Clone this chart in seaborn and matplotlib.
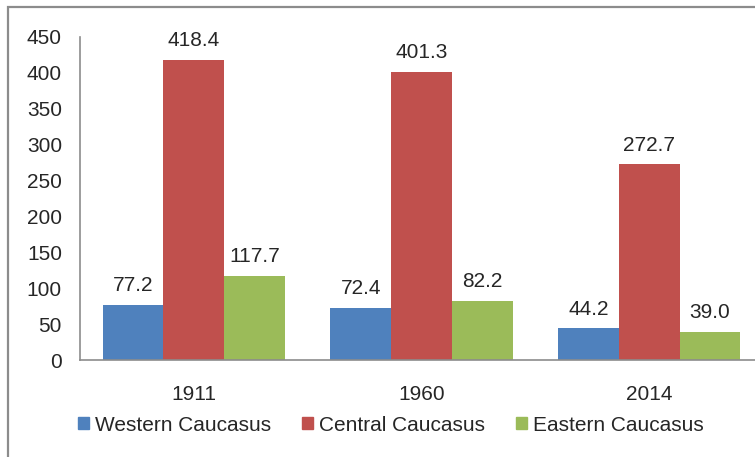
import pandas as pd
import numpy as np
import matplotlib
matplotlib.use("Agg")
import matplotlib.pyplot as plt
import seaborn as sb
from matplotlib.patches import Rectangle

years = ["1911", "1960", "2014"]
regions = ["Western Caucasus", "Central Caucasus", "Eastern Caucasus"]
western = [77.2, 72.4, 44.2]
central = [418.4, 401.3, 272.7]
eastern = [117.7, 82.2, 39.0]
colors = ["#4F81BD", "#C0504D", "#9BBB59"]

df = pd.DataFrame({
    "Year": years * 3,
    "Region": [regions[0]] * 3 + [regions[1]] * 3 + [regions[2]] * 3,
    "Value": western + central + eastern,
})

sb.set_style("white")
plt.rcParams["font.family"] = ["Liberation Sans", "DejaVu Sans"]

fig = plt.figure(figsize=(7.55, 4.57), dpi=100)
# chart area is cropped on the right, like the picture
ax = fig.add_axes([80 / 755, 1 - 360 / 457, 683 / 755, 323 / 457])

sb.barplot(data=df, x="Year", y="Value", hue="Region", palette=colors,
           width=0.8, saturation=1, ax=ax, linewidth=0)

for c in ax.containers:
    ax.bar_label(c, fmt="%.1f", padding=7, fontsize=15)

ax.set_ylim(0, 450)
ax.set_yticks(np.arange(0, 451, 50))
ax.set_xlim(-0.5, 2.5)
ax.set_xlabel("")
ax.set_ylabel("")
ax.tick_params(axis="both", length=0, labelsize=15)
ax.tick_params(axis="y", pad=13)
ax.tick_params(axis="x", pad=18)
for s in ["top", "right"]:
    ax.spines[s].set_visible(False)
for s in ["left", "bottom"]:
    ax.spines[s].set_color("#8C8C8C")
    ax.spines[s].set_linewidth(1.2)

ax.legend_.remove()
handles = [Rectangle((0, 0), 1, 1, color=c) for c in colors]
fig.legend(handles, regions, loc="center", bbox_to_anchor=(0.518, 0.07),
           ncol=3, frameon=False, fontsize=15, handlelength=0.5,
           handleheight=0.5, handletextpad=0.3, columnspacing=1.5)

# outer chart border (cut off on right and bottom)
fig.patches.append(Rectangle((8 / 755, -0.1), 1.2, 1 - 7 / 457 + 0.1,
                             transform=fig.transFigure, fill=False,
                             edgecolor="#8C8C8C", linewidth=1.6))

fig.savefig("out.png", dpi=100)
